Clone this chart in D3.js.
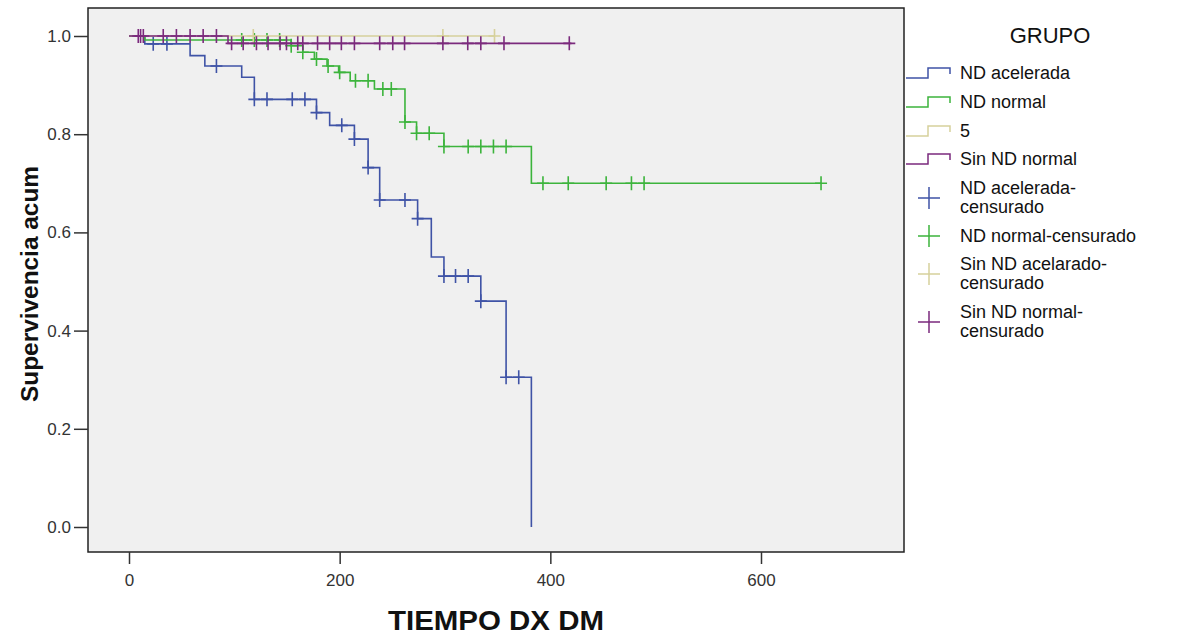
<!DOCTYPE html>
<html>
<head>
<meta charset="utf-8">
<script src="https://cdn.jsdelivr.net/npm/d3@7"></script>
<style>
  body { margin: 0; background: #fff; }
  svg text { font-family: "Liberation Sans", Arial, sans-serif; }
</style>
</head>
<body>
<svg id="chart" width="1177" height="637"></svg>
<script>
// Kaplan-Meier curves, values
var groupNames = ['ND acelerada', 'ND normal', '5', 'Sin ND normal'];
var censorNames = ['ND acelerada-\ncensurado', 'ND normal-censurado', 'Sin ND acelarado-\ncensurado', 'Sin ND normal-\ncensurado'];
var groupColors = ['#3f53a6', '#3cb43c', '#d6d19c', '#7b2a7d'];

// step times and survival after each step
var blueT = [0, 15, 58, 72, 107, 119, 178, 190.5, 214, 227, 238, 274, 287, 299, 334, 358, 382];
var blueS = [1, 0.984, 0.960, 0.939, 0.916, 0.871, 0.844, 0.818, 0.790, 0.732, 0.666, 0.628, 0.550, 0.511, 0.460, 0.305, 0];
var blueCens = [23, 36, 83, 119, 131, 155, 167, 178, 202, 214, 227, 238, 262, 274, 299, 310, 322, 334, 358, 370];

var greenT = [0, 15, 154, 165, 176, 188, 199, 210, 233, 262, 273, 299, 382, 657];
var greenS = [1, 0.992, 0.980, 0.967, 0.953, 0.939, 0.926, 0.909, 0.892, 0.825, 0.802, 0.775, 0.700, 0.700];
var greenCens = [107, 119, 131, 143, 154, 165, 178, 189, 200, 215, 227, 241, 249, 262, 273, 285, 299, 322, 334, 346, 358, 393, 417, 453, 477, 489, 657];

var tanT = [0, 347];
var tanS = [1, 1];
var tanCens = [118, 298, 347];

var purpleT = [0, 94, 420];
var purpleS = [1, 0.985, 0.985];
var purpleCens = [8.8, 11, 13.6, 32.5, 45, 58, 70.4, 83, 97.4, 108.4, 121, 132, 143.4, 149.5, 160.2, 165, 179, 190.5, 201.6, 214, 238, 250.4, 261.6, 298, 321.6, 334, 356, 418];

var xTicks = [0, 200, 400, 600];
var yTicks = [0, 0.2, 0.4, 0.6, 0.8, 1.0];

var groups = [
    {t: blueT, s: blueS, cens: blueCens},
    {t: greenT, s: greenS, cens: greenCens},
    {t: tanT, s: tanS, cens: tanCens},
    {t: purpleT, s: purpleS, cens: purpleCens}
];

var frame = {left: 88, right: 904, top: 8, bottom: 552};

var x = d3.scaleLinear().domain([0, 600]).range([129, 761]);
var y = d3.scaleLinear().domain([0, 1]).range([527, 36]);

var svg = d3.select('#chart');

svg.append('rect')
    .attr('x', frame.left)
    .attr('y', frame.top)
    .attr('width', frame.right - frame.left)
    .attr('height', frame.bottom - frame.top)
    .attr('fill', '#f0f0f0')
    .attr('stroke', '#222')
    .attr('stroke-width', 1.5);

// axes
var xAxis = svg.append('g')
    .attr('transform', 'translate(0,' + frame.bottom + ')')
    .call(d3.axisBottom(x).tickValues(xTicks).tickSize(12).tickPadding(10).tickFormat(d3.format('d')));
var yAxis = svg.append('g')
    .attr('transform', 'translate(' + frame.left + ',0)')
    .call(d3.axisLeft(y).tickValues(yTicks).tickSize(14).tickPadding(3).tickFormat(d3.format('.1f')));
[xAxis, yAxis].forEach(function(a) {
    a.select('.domain').remove();
    a.selectAll('line').attr('stroke', '#333').attr('stroke-width', 1.5);
    a.selectAll('text').attr('fill', '#333').style('font-size', '17px')
        .style('font-family', '"Liberation Sans", Arial, sans-serif');
});

svg.append('text')
    .attr('x', 496)
    .attr('y', 630)
    .attr('text-anchor', 'middle')
    .attr('font-weight', 'bold')
    .attr('textLength', 216)
    .attr('lengthAdjust', 'spacingAndGlyphs')
    .style('font-size', '27px')
    .attr('fill', '#111')
    .text('TIEMPO DX DM');

svg.append('text')
    .attr('transform', 'translate(38,284) rotate(-90)')
    .attr('text-anchor', 'middle')
    .attr('font-weight', 'bold')
    .attr('textLength', 236)
    .attr('lengthAdjust', 'spacingAndGlyphs')
    .style('font-size', '24px')
    .attr('fill', '#111')
    .text('Supervivencia acum');

// curves
var line = d3.line()
    .x(function(d) { return x(d[0]); })
    .y(function(d) { return y(d[1]); })
    .curve(d3.curveStepAfter);

function survAt(g, t) {
    var v = g.s[0];
    for (var i = 0; i < g.t.length; i++) {
        if (g.t[i] <= t + 0.01) v = g.s[i];
    }
    return v;
}

var plot = svg.append('g');
groups.forEach(function(g, gi) {
    var pts = g.t.map(function(t, i) { return [t, g.s[i]]; });
    plot.append('path')
        .datum(pts)
        .attr('d', line)
        .attr('fill', 'none')
        .attr('stroke', groupColors[gi])
        .attr('stroke-width', 1.6);

    var c = plot.append('g').selectAll('path').data(g.cens);
    c.enter().append('path')
        .attr('d', function(t) {
            var cx = x(t), cy = y(survAt(g, t));
            return 'M' + (cx - 6) + ',' + cy + 'H' + (cx + 6) + 'M' + cx + ',' + (cy - 7) + 'V' + (cy + 7);
        })
        .attr('stroke', groupColors[gi])
        .attr('stroke-width', 1.6);
});

// legend
var leg = svg.append('g');
leg.append('text')
    .attr('x', 1050)
    .attr('y', 43)
    .attr('text-anchor', 'middle')
    .style('font-size', '22px')
    .attr('fill', '#111')
    .text('GRUPO');

var lineY = [78, 107, 136, 164];
groupNames.forEach(function(n, i) {
    var yy = lineY[i];
    leg.append('path')
        .attr('d', 'M906,' + yy + 'H928V' + (yy - 10) + 'H950V' + (yy - 4))
        .attr('fill', 'none')
        .attr('stroke', groupColors[i])
        .attr('stroke-width', 1.5);
    leg.append('text')
        .attr('x', 960)
        .attr('y', yy + 1)
        .style('font-size', '18px')
        .attr('fill', '#111')
        .text(n);
});

var crossY = [188, 236, 264, 312];
censorNames.forEach(function(n, i) {
    var yy = crossY[i];
    var lines = n.split('\n');
    var cy = lines.length > 1 ? yy + 10 : yy;
    leg.append('path')
        .attr('d', 'M918,' + cy + 'H940M929,' + (cy - 11) + 'V' + (cy + 11))
        .attr('stroke', groupColors[i])
        .attr('stroke-width', 1.5);
    var t = leg.append('text')
        .attr('x', 960)
        .attr('y', yy + 6)
        .style('font-size', '18px')
        .attr('fill', '#111');
    lines.forEach(function(l, k) {
        t.append('tspan').attr('x', 960).attr('dy', k == 0 ? 0 : 19).text(l);
    });
});
</script>
</body>
</html>
